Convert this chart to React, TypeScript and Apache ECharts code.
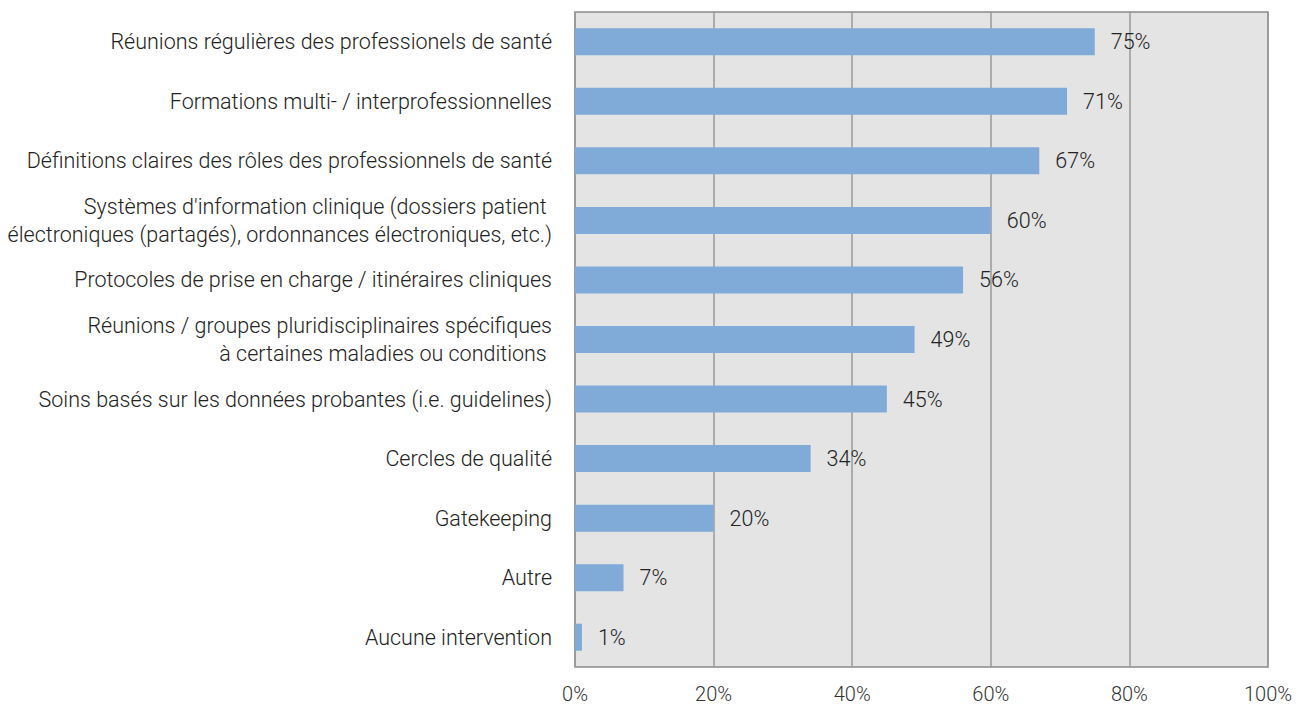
import React, { useEffect, useRef } from "react";
import * as echarts from "echarts";

const categories: string[] = [
  "Réunions régulières des professionels de santé",
  "Formations multi- / interprofessionnelles",
  "Définitions claires des rôles des professionnels de santé",
  "Systèmes d'information clinique (dossiers patient \nélectroniques (partagés), ordonnances électroniques, etc.)",
  "Protocoles de prise en charge / itinéraires cliniques",
  "Réunions / groupes pluridisciplinaires spécifiques\nà certaines maladies ou conditions ",
  "Soins basés sur les données probantes (i.e. guidelines)",
  "Cercles de qualité",
  "Gatekeeping",
  "Autre",
  "Aucune intervention",
];

const values: number[] = [75, 71, 67, 60, 56, 49, 45, 34, 20, 7, 1];

const xTicks: number[] = [0, 20, 40, 60, 80, 100];

export default function App() {
  const ref = useRef<HTMLDivElement>(null);
  useEffect(() => {
    if (!ref.current) return;
    const chart = echarts.init(ref.current, undefined, { renderer: "svg" });
    const font = "Roboto, 'Noto Sans', sans-serif";
    chart.setOption({
      animation: false,
      textStyle: { fontFamily: font },
      grid: {
        left: 575,
        right: 29,
        top: 12,
        bottom: 39,
        show: true,
        backgroundColor: "#e4e4e4",
        borderColor: "#8a8a8a",
        borderWidth: 1.5,
        containLabel: false,
      },
      xAxis: {
        type: "value",
        min: xTicks[0],
        max: xTicks[xTicks.length - 1],
        interval: 20,
        axisLine: { show: false },
        axisTick: { show: false },
        splitLine: { show: true, lineStyle: { color: "#9a9a9a", width: 1.5 } },
        axisLabel: {
          formatter: (v: number) => `${v}%`,
          color: "#333",
          fontSize: 20,
          fontWeight: 300,
          fontFamily: font,
          margin: 17,
        },
      },
      yAxis: {
        type: "category",
        data: categories,
        inverse: true,
        axisLine: { show: false },
        axisTick: { show: false },
        axisLabel: {
          color: "#222",
          fontSize: 21.5,
          fontWeight: 300,
          fontFamily: font,
          margin: 23,
          lineHeight: 28,
          align: "right",
        },
      },
      series: [
        {
          type: "bar",
          data: values,
          barWidth: 27,
          itemStyle: { color: "#80abd8" },
          label: {
            show: true,
            position: "right",
            distance: 16,
            formatter: (p: any) => `${p.value}%`,
            color: "#222",
            fontSize: 21.5,
            fontWeight: 300,
            fontFamily: font,
          },
        },
      ],
    });
    return () => chart.dispose();
  }, []);
  return (
    <div
      ref={ref}
      style={{ position: "fixed", left: 0, top: 0, width: 1297, height: 706, background: "#fff" }}
    />
  );
}
